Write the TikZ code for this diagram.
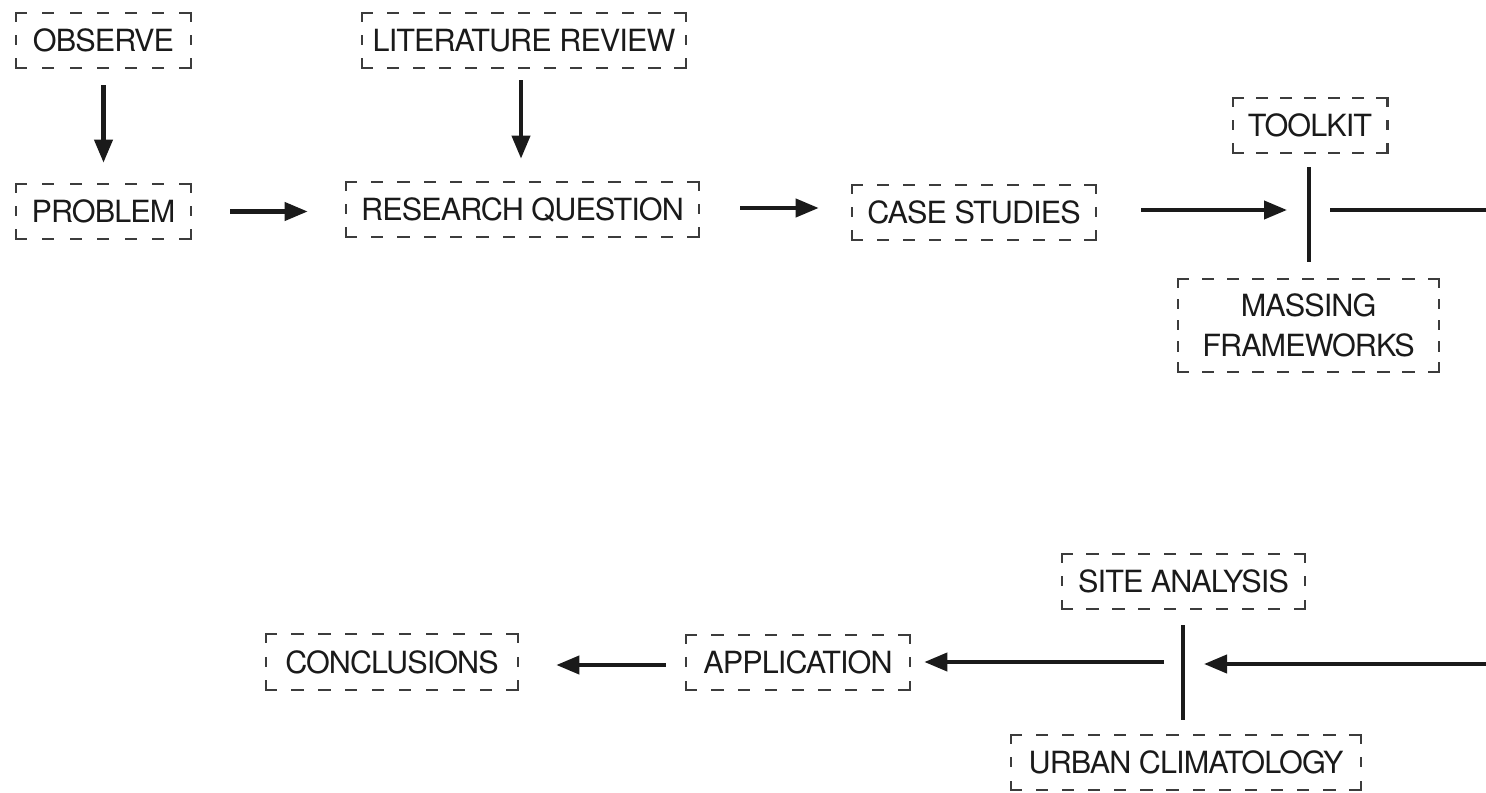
\documentclass[tikz,border=0pt]{standalone}
\usepackage{fontspec}
\setmainfont{TeX Gyre Heros}[LetterSpace=-3]
\usetikzlibrary{arrows.meta}
\definecolor{boxline}{HTML}{3C3C3C}
\definecolor{ink}{HTML}{1A1A1A}
\tikzset{
  stage/.style={minimum height=1.1cm, inner sep=0pt, align=center, text=ink,
    font=\fontsize{17.4pt}{22.8pt}\selectfont},
  boxpen/.style={draw=boxline, line width=1.3pt, line cap=rect},
  flow/.style={draw=ink, line width=2.3pt, -{Triangle[length=0.46cm,width=0.36cm]}},
  rule/.style={draw=ink, line width=2.3pt}
}
% dashed frame round a node of width #2 and height #3 (cm):
% each side gets its own gap length so that it starts and ends on a dash
\newcommand\stageframe[3]{%
  \pgfmathsetmacro\stgNH{max(1,round((#2-0.2)/0.52))}%
  \pgfmathsetmacro\stgOH{(#2-0.2)/\stgNH-0.2}%
  \pgfmathsetmacro\stgNV{max(1,round((#3-0.16)/0.46))}%
  \pgfmathsetmacro\stgOV{(#3-0.16)/\stgNV-0.16}%
  \draw[boxpen, dash pattern=on 0.2cm off \stgOH cm] (#1.north west) -- (#1.north east);
  \draw[boxpen, dash pattern=on 0.2cm off \stgOH cm] (#1.south west) -- (#1.south east);
  \draw[boxpen, dash pattern=on 0.16cm off \stgOV cm] (#1.north west) -- (#1.south west);
  \draw[boxpen, dash pattern=on 0.16cm off \stgOV cm] (#1.north east) -- (#1.south east);
}
\begin{document}
\begin{tikzpicture}[x=0.02cm, y=-0.02cm]
\useasboundingbox (0,0) rectangle (1486,793);

% stages of the process
\node[stage, minimum width=3.5cm]  (obs)  at (103.5,40.5)  {OBSERVE};
\node[stage, minimum width=6.48cm] (lit)  at (524,40.5)    {LITERATURE REVIEW};
\node[stage, minimum width=3.5cm]  (prob) at (103.5,211.5) {PROBLEM};
\node[stage, minimum width=7.06cm] (rq)   at (522.5,209.5) {RESEARCH QUESTION};
\node[stage, minimum width=4.88cm] (case) at (974,212.5)   {CASE STUDIES};
\node[stage, minimum width=3.08cm] (tool) at (1310,125.5)  {TOOLKIT};
\node[stage, minimum width=5.22cm, minimum height=1.86cm] (mass) at (1308.5,325.5) {MASSING\\FRAMEWORKS};
\node[stage, minimum width=4.86cm] (site) at (1183.5,581.5) {SITE ANALYSIS};
\node[stage, minimum width=7.0cm]  (urb)  at (1186,762.5)  {URBAN CLIMATOLOGY};
\node[stage, minimum width=4.48cm] (app)  at (798,662.5)   {APPLICATION};
\node[stage, minimum width=5.04cm] (conc) at (392,662)     {CONCLUSIONS};

% dashed frames
\stageframe{obs}{3.5}{1.1}
\stageframe{lit}{6.48}{1.1}
\stageframe{prob}{3.5}{1.1}
\stageframe{rq}{7.06}{1.1}
\stageframe{case}{4.88}{1.1}
\stageframe{tool}{3.08}{1.1}
\stageframe{mass}{5.22}{1.86}
\stageframe{site}{4.86}{1.1}
\stageframe{urb}{7.0}{1.1}
\stageframe{app}{4.48}{1.1}
\stageframe{conc}{5.04}{1.1}

% junctions and the page edge where the flow wraps around
\coordinate (j1) at (1309,210);
\coordinate (e1) at (1486,210);
\coordinate (j2) at (1183,664);
\coordinate (e2) at (1486,664);

% top row
\draw[flow, shorten <=0.34cm, shorten >=0.42cm] (obs.south) -- (prob.north);
\draw[flow, shorten <=0.24cm, shorten >=0.46cm] ([xshift=-0.06cm]lit.south) -- ([xshift=-0.06cm]lit.south |- rq.north);
\draw[flow, shorten <=0.78cm, shorten >=0.76cm] (prob.east) -- (prob.east -| rq.west);
\draw[flow, shorten <=0.82cm, shorten >=0.66cm] ([yshift=0.03cm]rq.east) -- ([yshift=0.03cm]rq.east -| case.west);
\draw[flow, shorten <=0.9cm, shorten >=0.44cm] (case.east |- j1) -- (j1);
\draw[rule, shorten <=0.28cm, shorten >=0.34cm] (tool.south -| j1) -- (mass.north -| j1);
\draw[rule, shorten <=0.42cm] (j1) -- (e1);

% bottom row
\draw[flow, shorten >=0.42cm] (e2) -- (j2);
\draw[rule, shorten <=0.32cm, shorten >=0.3cm] (site.south -| j2) -- (urb.north -| j2);
\draw[flow, shorten <=0.38cm, shorten >=0.28cm] ([yshift=0.04cm]j2) -- ([yshift=0.04cm]j2 -| app.east);
\draw[flow, shorten <=0.4cm, shorten >=0.76cm] ([yshift=-0.05cm]app.west) -- ([yshift=-0.05cm]app.west -| conc.east);
\end{tikzpicture}
\end{document}
